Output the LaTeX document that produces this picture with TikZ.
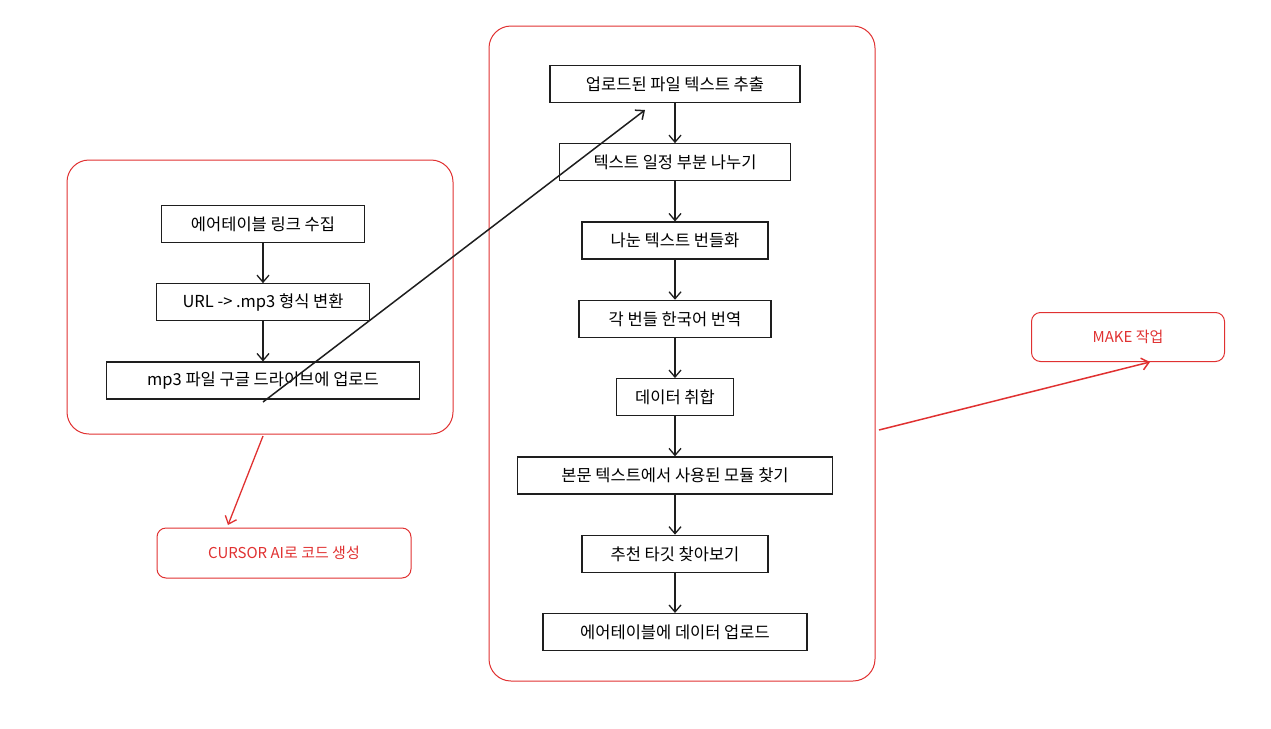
\documentclass[tikz,border=0pt]{standalone}
\usepackage{fontspec}
\setmainfont{Noto Sans CJK KR}
\usetikzlibrary{arrows.meta,positioning}
\definecolor{sketchred}{HTML}{E03131}
\definecolor{ink}{HTML}{1E1E1E}

\begin{document}
\begin{tikzpicture}[x=1pt,y=-1pt,>={Straight Barb[length=7pt,width=12pt]},node distance=40pt,
    flowstep/.style={rectangle,draw=ink,line width=1.3pt,minimum height=37pt,inner xsep=10pt,font=\fontsize{16.5}{18}\selectfont},
    note/.style={rectangle,rounded corners=9pt,draw=sketchred,line width=1pt,text=sketchred,font=\fontsize{15}{17}\selectfont},
    frame/.style={draw=sketchred,line width=1pt,rounded corners=22pt}]
    \useasboundingbox (0,0) rectangle (1271,728);

    % left group
    \draw[frame] (67,160) rectangle (453,434);
    \node[flowstep,minimum width=203pt]                  (link) at (263,224) {에어테이블 링크 수집};
    \node[flowstep,minimum width=213pt,below=of link]    (conv) {URL -> .mp3 형식 변환};
    \node[flowstep,minimum width=313pt,below=of conv]    (upl)  {mp3 파일 구글 드라이브에 업로드};
    \draw[->,ink,line width=1.3pt] (link) -- (conv);
    \draw[->,ink,line width=1.3pt] (conv) -- (upl);

    % middle group
    \draw[frame] (489,26) rectangle (875,681);
    \node[flowstep,minimum width=250pt]                  (ext)  at (675,84) {업로드된 파일 텍스트 추출};
    \node[flowstep,minimum width=231pt,below=of ext]     (spl)  {텍스트 일정 부분 나누기};
    \node[flowstep,minimum width=186pt,below=of spl]     (bun)  {나눈 텍스트 번들화};
    \node[flowstep,minimum width=192pt,below=of bun]     (tra)  {각 번들 한국어 번역};
    \node[flowstep,minimum width=117pt,below=of tra]     (col)  {데이터 취합};
    \node[flowstep,minimum width=315pt,below=of col]     (mod)  {본문 텍스트에서 사용된 모듈 찾기};
    \node[flowstep,minimum width=186pt,below=of mod]     (tgt)  {추천 타깃 찾아보기};
    \node[flowstep,minimum width=264pt,below=of tgt]     (air)  {에어테이블에 데이터 업로드};
    \foreach \a/\b in {ext/spl,spl/bun,bun/tra,tra/col,col/mod,mod/tgt,tgt/air}
        \draw[->,ink,line width=1.3pt] (\a) -- (\b);

    % notes
    \node[note,minimum width=254pt,minimum height=50pt] (cur) at (284,553) {CURSOR AI로 코드 생성};
    \node[note,minimum width=193pt,minimum height=49pt] (make) at (1128,337) {MAKE 작업};

    \coordinate (s1) at (263,402);
    \coordinate (e1) at (645,110);
    \coordinate (s2) at (263,436);
    \coordinate (e2) at (228,525);
    \coordinate (s3) at (879,430);
    \coordinate (e3) at (1150,362);
    \draw[->,ink,line width=1.5pt] (s1) -- (e1);
    \draw[->,sketchred,line width=1.3pt] (s2) -- (e2);
    \draw[->,sketchred,line width=1.5pt] (s3) -- (e3);
\end{tikzpicture}
\end{document}
